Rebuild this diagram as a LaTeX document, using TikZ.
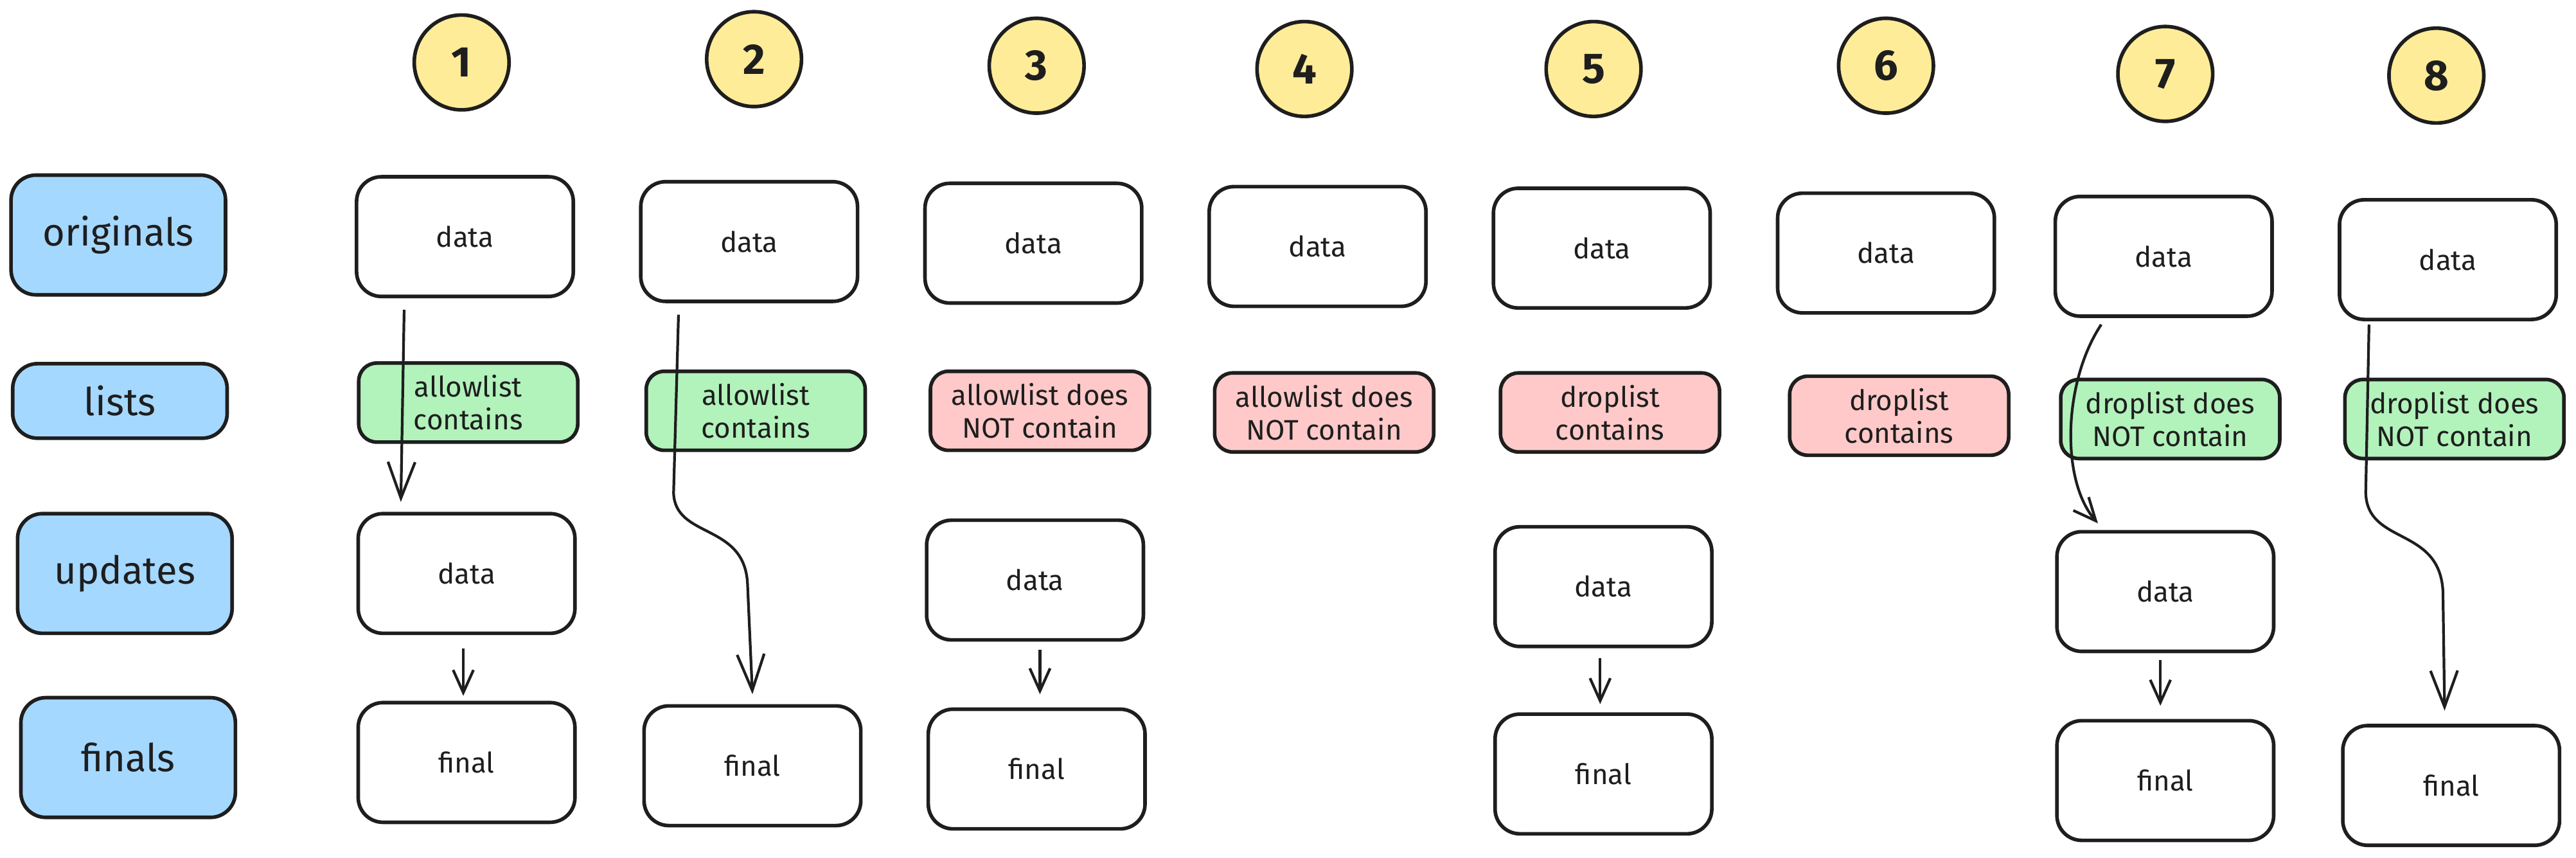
\documentclass[tikz,border=0pt]{standalone}
\usepackage{fontspec}
\setmainfont{Fira Sans}
\usetikzlibrary{arrows.meta,calc}
\definecolor{ink}{HTML}{1E1E1E}
\definecolor{lblue}{HTML}{A5D8FF}
\definecolor{lgreen}{HTML}{B2F2BB}
\definecolor{lred}{HTML}{FFC9C9}
\definecolor{lyellow}{HTML}{FFEC99}
\begin{document}
\begin{tikzpicture}[x=0.02557cm,y=-0.02557cm,
 box/.style={draw=ink, line width=1.6pt, rounded corners=11pt, fill=white, text=ink, minimum width=96pt, minimum height=53pt, font=\fontsize{12.5}{15}\selectfont, align=center, inner sep=0pt},
 listbox/.style={box, minimum width=97pt, minimum height=35pt, rounded corners=8pt, font=\fontsize{12.5}{14.5}\selectfont},
 good/.style={listbox, fill=lgreen},
 bad/.style={listbox, fill=lred},
 rowlabel/.style={box, fill=lblue, minimum width=95pt, font=\fontsize{17}{20}\selectfont},
 num/.style={circle, draw=ink, line width=1.6pt, fill=lyellow, minimum size=42pt, inner sep=0pt, font=\fontsize{19}{22}\selectfont\bfseries, text=ink},
 flow/.style={draw=ink, line width=1.2pt, -{Straight Barb[length=10pt,width=9pt]}},
 bigflow/.style={draw=ink, line width=1.2pt, -{Straight Barb[length=16pt,width=12pt]}},
]
\useasboundingbox (0,0) rectangle (1568,522);

% row labels
\node[rowlabel] (Lorig) at (72,143) {originals};
\node[rowlabel, minimum height=33pt] (Llist) at (73,244) {lists};
\node[rowlabel] (Lupd) at (76,349) {updates};
\node[rowlabel] (Lfin) at (78,461) {finals};

% numbers
\node[num] (n1) at (281,38) {1};
\node[num] (n2) at (459,36) {2};
\node[num] (n3) at (631,40) {3};
\node[num] (n4) at (794,42) {4};
\node[num] (n5) at (970,42) {5};
\node[num] (n6) at (1148,40) {6};
\node[num] (n7) at (1318,45) {7};
\node[num] (n8) at (1483,46) {8};

% originals
\node[box] (d1) at (283,144) {data};
\node[box] (d2) at (456,147) {data};
\node[box] (d3) at (629,148) {data};
\node[box] (d4) at (802,150) {data};
\node[box] (d5) at (975,151) {data};
\node[box] (d6) at (1148,154) {data};
\node[box] (d7) at (1317,156) {data};
\node[box] (d8) at (1490,158) {data};

% lists
\node[good] (l1) at (285,245) {allowlist\\contains};
\node[good] (l2) at (460,250) {allowlist\\contains};
\node[bad] (l3) at (633,250) {allowlist does\\NOT contain};
\node[bad] (l4) at (806,251) {allowlist does\\NOT contain};
\node[bad] (l5) at (980,251) {droplist\\contains};
\node[bad] (l6) at (1156,253) {droplist\\contains};
\node[good] (l7) at (1321,255) {droplist does\\NOT contain};
\node[good] (l8) at (1494,255) {droplist does\\NOT contain};

% updates
\node[box] (u1) at (284,349) {data};
\node[box] (u3) at (630,353) {data};
\node[box] (u5) at (976,357) {data};
\node[box] (u7) at (1318,360) {data};

% finals
\node[box] (f1) at (284,464) {final};
\node[box] (f2) at (458,466) {final};
\node[box] (f3) at (631,468) {final};
\node[box] (f5) at (976,471) {final};
\node[box] (f7) at (1318,475) {final};
\node[box] (f8) at (1492,478) {final};

% connectors
\draw[bigflow] ($(d1.south)+(-37,7)$) -- ($(u1.north)+(-40,-6)$);
\draw[flow] ($(u1.south)+(-2,8)$) -- ($(f1.north)+(-2,-3)$);

\coordinate (a2b) at (410,300);
\coordinate (a2c1) at (411,328);
\coordinate (a2c2) at (453,318);
\coordinate (a2d) at (455,355);
\draw[bigflow] ($(d2.south)+(-43,7)$) -- (a2b) .. controls (a2c1) and (a2c2) .. (a2d) -- ($(f2.north)+(0,-6)$);

\draw[flow] ($(u3.south)+(3,5)$) -- ($(f3.north)+(2,-8)$);
\draw[flow] ($(u5.south)+(-2,6)$) -- ($(f5.north)+(-2,-5)$);

\coordinate (a7c1) at (1256,232);
\coordinate (a7c2) at (1254,292);
\draw[flow] ($(d7.south)+(-38,4)$) .. controls (a7c1) and (a7c2) .. ($(u7.north)+(-41,-4)$);
\draw[flow] ($(u7.south)+(-3,4)$) -- ($(f7.north)+(-3,-8)$);

\coordinate (a8b) at (1440,300);
\coordinate (a8c1) at (1441,332);
\coordinate (a8c2) at (1485,320);
\coordinate (a8d) at (1487,360);
\draw[bigflow] ($(d8.south)+(-48,2)$) -- (a8b) .. controls (a8c1) and (a8c2) .. (a8d) -- ($(f8.north)+(-4,-8)$);
\end{tikzpicture}
\end{document}
